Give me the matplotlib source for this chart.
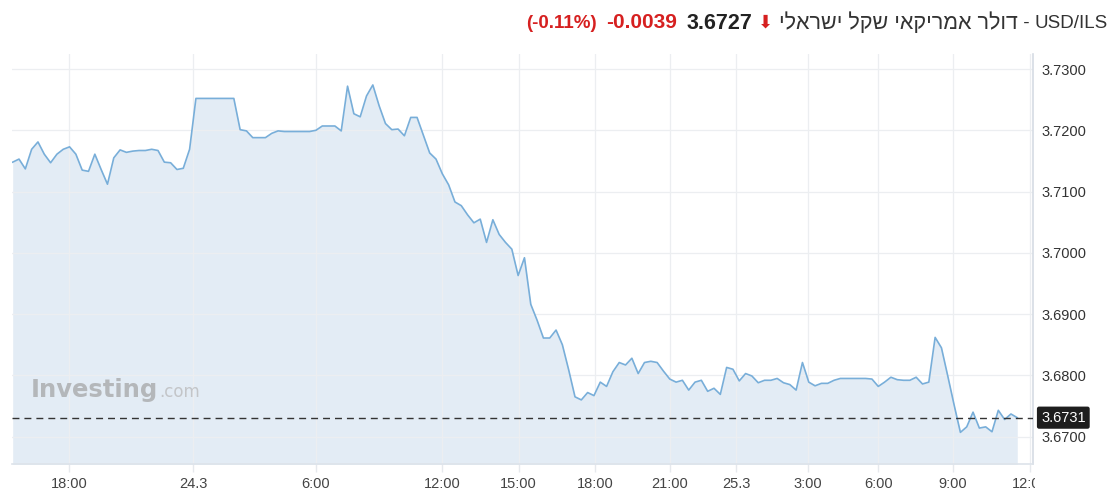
import matplotlib
matplotlib.use("Agg")
import matplotlib.pyplot as plt
from matplotlib.transforms import IdentityTransform, Bbox, blended_transform_factory
import numpy as np

# ---------------- data ----------------
usd_ils = [
    3.7148, 3.7153, 3.7137, 3.7169, 3.7181, 3.7161, 3.7147, 3.7161, 3.7169, 3.7173,
    3.7161, 3.7135, 3.7133, 3.7161, 3.7136, 3.7112, 3.7155, 3.7168, 3.7164, 3.7166,
    3.7167, 3.7167, 3.7169, 3.7167, 3.7148, 3.7147, 3.7136, 3.7138, 3.7169, 3.7252,
    3.7252, 3.7252, 3.7252, 3.7252, 3.7252, 3.7252, 3.7201, 3.7199, 3.7188, 3.7188,
    3.7188, 3.7195, 3.7199, 3.7198, 3.7198, 3.7198, 3.7198, 3.7198, 3.7200, 3.7207,
    3.7207, 3.7207, 3.7199, 3.7272, 3.7227, 3.7222, 3.7256, 3.7274, 3.7240, 3.7211,
    3.7201, 3.7202, 3.7191, 3.7221, 3.7221, 3.7192, 3.7163, 3.7153, 3.7129, 3.7111,
    3.7083, 3.7077, 3.7062, 3.7049, 3.7055, 3.7017, 3.7054, 3.7030, 3.7017, 3.7006,
    3.6963, 3.6992, 3.6916, 3.6890, 3.6861, 3.6861, 3.6874, 3.6850, 3.6809, 3.6765,
    3.6760, 3.6772, 3.6767, 3.6789, 3.6782, 3.6806, 3.6821, 3.6817, 3.6828, 3.6803,
    3.6821, 3.6823, 3.6821, 3.6807, 3.6794, 3.6789, 3.6792, 3.6776, 3.6789, 3.6792,
    3.6774, 3.6779, 3.6769, 3.6813, 3.6810, 3.6791, 3.6803, 3.6799, 3.6788, 3.6792,
    3.6792, 3.6795, 3.6788, 3.6785, 3.6776, 3.6821, 3.6789, 3.6783, 3.6787, 3.6787,
    3.6792, 3.6795, 3.6795, 3.6795, 3.6795, 3.6795, 3.6794, 3.6782, 3.6789, 3.6797,
    3.6793, 3.6792, 3.6792, 3.6797, 3.6786, 3.6789, 3.6862, 3.6845, 3.6799, 3.6752,
    3.6707, 3.6716, 3.6740, 3.6714, 3.6716, 3.6708, 3.6743, 3.6728, 3.6737, 3.6731,
]
x_tick_pos = [8.96, 28.53, 47.94, 67.93, 80.06, 92.14, 104.0, 114.5, 125.9, 137.0, 148.8, 160.98]
x_tick_labels = ["18:00", "24.3", "6:00", "12:00", "15:00", "18:00", "21:00",
                 "25.3", "3:00", "6:00", "9:00", "12:00"]
y_ticks = [3.67, 3.68, 3.69, 3.70, 3.71, 3.72, 3.73]
last_price = 3.6731
title_pair = "USD/ILS"
title_heb = "דולר אמריקאי שקל ישראלי"
quote_price = "3.6727"
quote_change = "-0.0039"
quote_pct = "(-0.11%)"

# ---------------- figure ----------------
plt.rcParams["font.family"] = ["Liberation Sans", "DejaVu Sans"]
W, H = 1119, 497
fig = plt.figure(figsize=(W / 100, H / 100), dpi=100)
fig.patch.set_facecolor("white")
ax_left, ax_right, ax_top, ax_bottom = 12, 1033, 54, 464.3
ax = fig.add_axes([ax_left / W, (H - ax_bottom) / H,
                   (ax_right - ax_left) / W, (ax_bottom - ax_top) / H])

y_low, y_high = 3.66549, 3.73245
x = np.arange(len(usd_ils))
ax.set_xlim(-0.11, 161.49)
ax.set_ylim(y_low, y_high)
ax.fill_between(x, usd_ils, y_low, color="#e3ecf5", lw=0, zorder=0.3)
ax.plot(x, usd_ils, color="#78aed9", lw=1.2, zorder=3, solid_joinstyle="round")

ax.set_axisbelow(True)
ax.grid(True, color="#eceef1", lw=0.9)

for s in ("top", "left"):
    ax.spines[s].set_visible(False)
ax.spines["bottom"].set_color("#dde3ea")
ax.spines["bottom"].set_linewidth(1.2)
ax.spines["right"].set_color("#d6dce4")
ax.spines["right"].set_linewidth(1.2)

ax.yaxis.tick_right()
ax.set_yticks(y_ticks)
ax.set_yticklabels([f"{v:.4f}" for v in y_ticks])
ax.tick_params(axis="y", length=0, pad=5.8, labelsize=10.5, labelcolor="#333333")
ax.set_xticks(x_tick_pos)
ax.set_xticklabels(x_tick_labels)
ax.tick_params(axis="x", length=6, width=1, color="#e6e9ed", pad=3,
               labelsize=10.5, labelcolor="#444444")

# clip last x label like the reference
clip = Bbox([[0, 0], [1035, H]])
lab = ax.get_xticklabels()[-1]
lab.set_clip_box(clip)
lab.set_clip_on(True)

# dashed last price line
ax.axhline(last_price, color="#333333", lw=1, dashes=(5, 3.6), zorder=4)
tr = blended_transform_factory(ax.transAxes, ax.transData)
ax.text(1.0 + 8 / (ax_right - ax_left), last_price, f"{last_price:.4f}", transform=tr,
        ha="left", va="center", fontsize=10.5, color="white", zorder=6, clip_on=False,
        bbox=dict(boxstyle="round,pad=0.28,rounding_size=0.15", fc="#1e1e1e", ec="none"))

# watermark
renderer = fig.canvas.get_renderer()
wm_xy = (0.0183, 0.1633)
wm = ax.text(*wm_xy, "Investing", transform=ax.transAxes, ha="left", va="baseline",
             fontsize=17.5, fontweight="bold", color="#b4b7ba", family=["DejaVu Sans"], zorder=2)
wb = wm.get_window_extent(renderer)
base_y = ax.transAxes.transform(wm_xy)[1]
fig.text(wb.x1 + 1, base_y, ".com", transform=IdentityTransform(), ha="left", va="baseline",
         fontsize=12, color="#c3c5c8", family=["DejaVu Sans"], zorder=2)

# title (right-to-left layout)
heb_visual = title_heb[::-1]
pieces = [
    (title_pair, "#333333", "normal", 13.5, 0),
    (" - ", "#333333", "normal", 13.5, 0),
    (heb_visual, "#333333", "normal", 15.5, 6),
    ("\u2b07", "#d62020", "normal", 13, 5),
    (quote_price, "#222222", "bold", 15.5, 10),
    (quote_change, "#d62020", "bold", 15, 9),
    (quote_pct, "#d62020", "bold", 13.5, 0),
]
cur = 1108
ty = H - 21
for txt, col, wt, fs, gap in pieces:
    t = fig.text(cur, ty, txt, transform=IdentityTransform(), ha="right", va="center_baseline",
                 color=col, fontweight=wt, fontsize=fs,
                 family=["Liberation Sans", "DejaVu Sans"])
    bb = t.get_window_extent(renderer)
    cur = bb.x0 - gap

fig.savefig("out.png", dpi=100, facecolor="white")
